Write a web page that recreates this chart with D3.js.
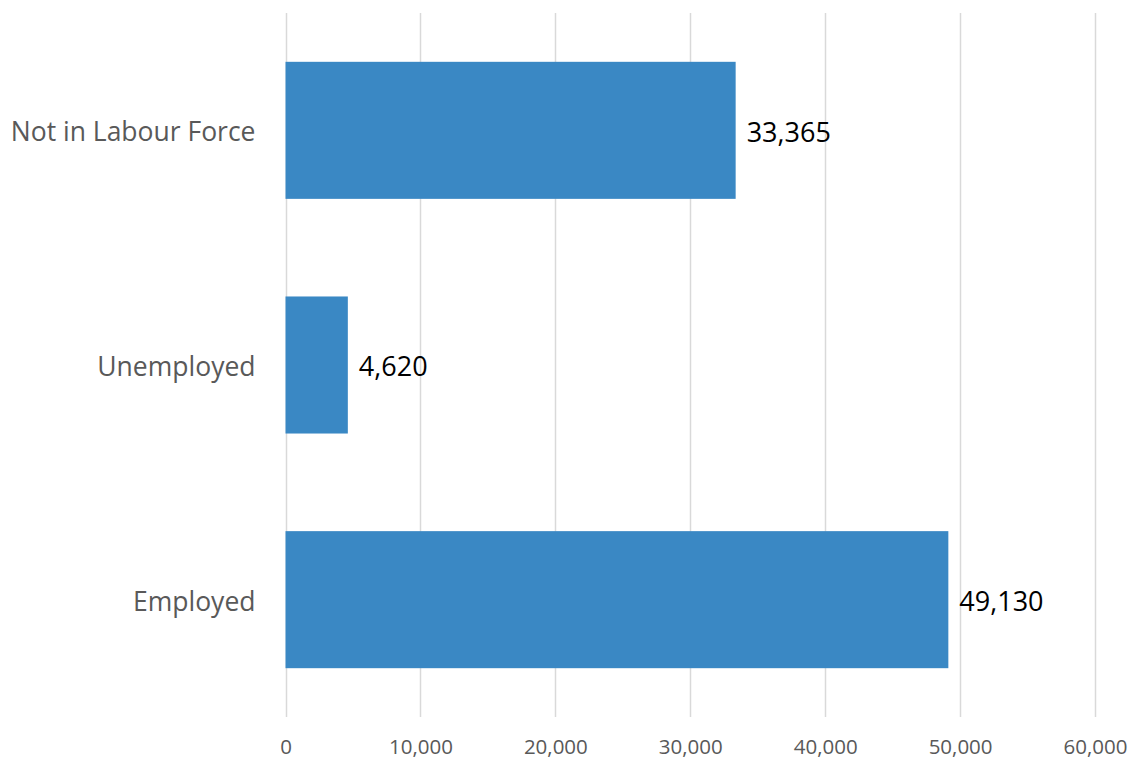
<!DOCTYPE html>
<html><head><meta charset="utf-8">
<script src="https://cdn.jsdelivr.net/npm/d3@7"></script>
<style>body{margin:0;background:#fff}svg{display:block}</style>
</head><body>
<script>
const categories = ["Not in Labour Force", "Unemployed", "Employed"];
const values = [33365, 4620, 49130];
const tickValues = [0, 10000, 20000, 30000, 40000, 50000, 60000];

const W = 1131, H = 761;
const m = {left: 285.5, right: 36, top: 13, bottom: 44};
const svg = d3.select("body").append("svg").attr("width", W).attr("height", H);
const x = d3.scaleLinear().domain([0, 60000]).range([m.left, W - m.right]);
const y = d3.scaleBand().domain(categories).range([m.top, H - m.bottom]).paddingInner(0.416).paddingOuter(0.208);
const font = "'Open Sans', 'Noto Sans', sans-serif";
const fmt = d3.format(",");

// gridlines
svg.append("g").selectAll("line").data(tickValues).join("line")
  .attr("x1", d => Math.round(x(d)) + 0.5).attr("x2", d => Math.round(x(d)) + 0.5)
  .attr("y1", m.top).attr("y2", H - m.bottom)
  .attr("stroke", "#d9d9d9").attr("stroke-width", 1.5);

// x axis labels
const xa = svg.append("g").attr("transform", `translate(0,${H - m.bottom})`)
  .call(d3.axisBottom(x).tickValues(tickValues).tickFormat(fmt).tickSize(0).tickPadding(22));
xa.select(".domain").remove();
xa.selectAll("text").attr("fill", "#595959").style("font-family", font).style("font-size", "20.5px");

// y axis labels
const ya = svg.append("g").attr("transform", `translate(${m.left},0)`)
  .call(d3.axisLeft(y).tickSize(0).tickPadding(30));
ya.select(".domain").remove();
ya.selectAll("text").attr("fill", "#595959").attr("dy", "0.42em").style("font-family", font).style("font-size", "26.5px");

// bars
svg.append("g").selectAll("rect").data(values).join("rect")
  .attr("x", x(0)).attr("y", (d, i) => y(categories[i]))
  .attr("width", d => x(d) - x(0)).attr("height", y.bandwidth())
  .attr("fill", "#3a88c4");

// value labels
svg.append("g").selectAll("text").data(values).join("text")
  .attr("x", d => x(d) + 11).attr("y", (d, i) => y(categories[i]) + y.bandwidth() / 2)
  .attr("dy", "0.42em").attr("fill", "#000")
  .style("font-family", font).style("font-size", "27px")
  .text(d => fmt(d));
</script>
</body></html>
